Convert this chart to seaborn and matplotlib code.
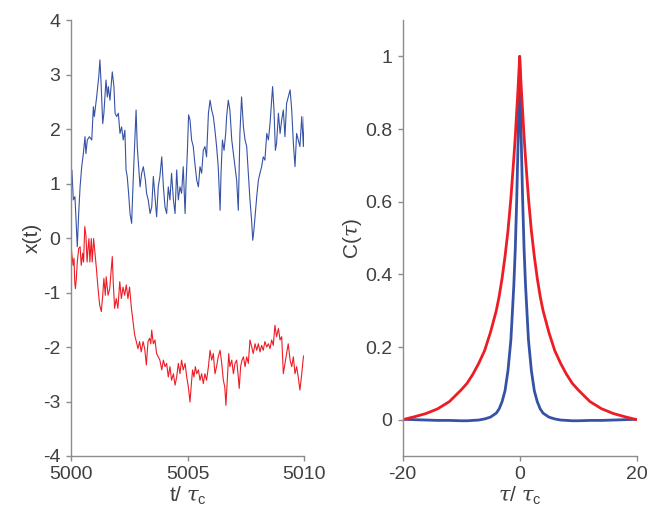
import numpy as np
import pandas as pd
import matplotlib
matplotlib.use("Agg")
import matplotlib.pyplot as plt
import seaborn as sns

# ---- left panel: trajectories ----
t_blue = [5000.00, 5000.04, 5000.10, 5000.17, 5000.24, 5000.27, 5000.33, 5000.39, 5000.46, 5000.53,
          5000.60, 5000.64, 5000.70, 5000.79, 5000.89, 5000.96, 5001.00, 5001.10, 5001.19, 5001.24,
          5001.29, 5001.36, 5001.41, 5001.50, 5001.56, 5001.60, 5001.67, 5001.77, 5001.84, 5001.89,
          5001.96, 5002.03, 5002.10, 5002.17, 5002.24, 5002.31, 5002.36, 5002.41, 5002.47, 5002.53,
          5002.60, 5002.64, 5002.70, 5002.79, 5002.84, 5002.90, 5002.96, 5003.03, 5003.10, 5003.19,
          5003.24, 5003.31, 5003.39, 5003.46, 5003.53, 5003.60, 5003.67, 5003.74, 5003.81, 5003.89,
          5003.96, 5004.03, 5004.10, 5004.17, 5004.24, 5004.31, 5004.39, 5004.46, 5004.53, 5004.60,
          5004.67, 5004.74, 5004.81, 5004.89, 5004.93, 5004.99, 5005.04, 5005.10, 5005.17, 5005.24,
          5005.31, 5005.39, 5005.46, 5005.53, 5005.60, 5005.67, 5005.74, 5005.81, 5005.89, 5005.96,
          5006.03, 5006.10, 5006.17, 5006.24, 5006.31, 5006.39, 5006.43, 5006.49, 5006.56, 5006.63,
          5006.67, 5006.74, 5006.81, 5006.89, 5006.96, 5007.03, 5007.10, 5007.17, 5007.24, 5007.31,
          5007.39, 5007.46, 5007.53, 5007.60, 5007.67, 5007.74, 5007.79, 5007.84, 5007.90, 5007.96,
          5008.03, 5008.10, 5008.17, 5008.24, 5008.31, 5008.39, 5008.46, 5008.53, 5008.60, 5008.64,
          5008.70, 5008.76, 5008.81, 5008.89, 5008.96, 5009.03, 5009.10, 5009.17, 5009.24, 5009.31,
          5009.39, 5009.46, 5009.53, 5009.60, 5009.67, 5009.74, 5009.81, 5009.89, 5009.96, 5010.00]
x_blue = [1.06, 1.25, 0.70, 0.76, 0.09, -0.16, 0.45, 0.94, 1.31, 1.55,
          1.86, 1.55, 1.80, 1.86, 1.80, 2.41, 2.23, 2.59, 2.96, 3.27,
          2.84, 2.10, 2.29, 2.90, 2.59, 2.78, 2.53, 3.05, 2.78, 2.29,
          2.23, 2.29, 1.92, 2.04, 1.80, 1.98, 1.25, 1.13, 0.82, 0.45,
          0.27, 0.76, 1.43, 2.35, 1.68, 1.31, 0.94, 1.19, 1.31, 1.06,
          0.82, 0.70, 0.45, 0.57, 1.13, 0.76, 0.39, 0.94, 1.13, 1.49,
          0.94, 0.57, 0.45, 0.94, 0.70, 1.19, 0.70, 0.45, 1.25, 0.70,
          0.94, 0.82, 1.31, 0.45, 1.00, 1.61, 2.26, 2.17, 1.80, 1.68,
          1.37, 1.06, 0.94, 1.31, 1.19, 1.61, 1.68, 1.49, 2.29, 2.53,
          2.35, 2.23, 1.98, 1.68, 1.31, 0.51, 1.19, 1.80, 1.61, 1.92,
          2.23, 2.53, 2.35, 1.80, 1.55, 1.31, 1.06, 0.51, 1.92, 2.59,
          2.04, 1.80, 1.68, 1.19, 0.70, 0.33, -0.04, 0.15, 0.45, 0.76,
          1.06, 1.19, 1.31, 1.49, 1.43, 1.92, 1.80, 2.10, 2.53, 2.78,
          2.35, 1.61, 1.74, 2.29, 1.92, 2.17, 2.35, 1.86, 2.47, 2.59,
          2.72, 2.35, 1.74, 1.31, 1.92, 1.80, 1.68, 2.23, 1.68, 2.23]

t_red = [5000.00, 5000.04, 5000.09, 5000.13, 5000.16, 5000.19, 5000.23, 5000.27, 5000.33, 5000.39,
         5000.44, 5000.50, 5000.54, 5000.59, 5000.64, 5000.69, 5000.73, 5000.77, 5000.81, 5000.87,
         5000.91, 5000.97, 5001.01, 5001.09, 5001.16, 5001.23, 5001.30, 5001.36, 5001.41, 5001.47,
         5001.51, 5001.59, 5001.66, 5001.73, 5001.77, 5001.81, 5001.87, 5001.94, 5002.01, 5002.09,
         5002.16, 5002.23, 5002.30, 5002.37, 5002.44, 5002.51, 5002.59, 5002.66, 5002.73, 5002.80,
         5002.87, 5002.94, 5003.01, 5003.09, 5003.16, 5003.23, 5003.30, 5003.37, 5003.42, 5003.46,
         5003.53, 5003.60, 5003.67, 5003.74, 5003.81, 5003.89, 5003.96, 5004.03, 5004.10, 5004.17,
         5004.24, 5004.31, 5004.39, 5004.46, 5004.53, 5004.60, 5004.67, 5004.74, 5004.81, 5004.89,
         5004.96, 5005.03, 5005.10, 5005.16, 5005.21, 5005.27, 5005.33, 5005.39, 5005.46, 5005.53,
         5005.60, 5005.67, 5005.74, 5005.81, 5005.89, 5005.96, 5006.03, 5006.10, 5006.17, 5006.24,
         5006.31, 5006.39, 5006.46, 5006.53, 5006.59, 5006.64, 5006.70, 5006.76, 5006.81, 5006.89,
         5006.96, 5007.03, 5007.10, 5007.17, 5007.21, 5007.27, 5007.33, 5007.39, 5007.46, 5007.53,
         5007.60, 5007.67, 5007.74, 5007.81, 5007.89, 5007.96, 5008.03, 5008.10, 5008.17, 5008.24,
         5008.31, 5008.39, 5008.46, 5008.53, 5008.60, 5008.67, 5008.74, 5008.81, 5008.89, 5008.96,
         5009.03, 5009.10, 5009.17, 5009.24, 5009.31, 5009.39, 5009.46, 5009.53, 5009.60, 5009.67,
         5009.74, 5009.81, 5009.89, 5009.96, 5010.00]
x_red = [-0.13, -0.31, -0.50, -0.37, -0.80, -0.93, -0.74, -0.44, -0.19, -0.16,
         -0.50, -0.28, -0.44, 0.21, 0.05, -0.44, -0.19, -0.01, -0.44, -0.01,
         -0.44, -0.01, -0.19, -0.56, -0.93, -1.23, -1.35, -1.05, -0.74, -1.05,
         -0.71, -1.05, -0.93, -0.56, -0.34, -0.80, -1.29, -1.11, -1.29, -0.80,
         -1.11, -0.90, -1.05, -0.86, -1.11, -0.90, -1.29, -1.54, -1.78, -1.90,
         -2.03, -1.90, -2.09, -1.90, -2.03, -2.33, -1.90, -1.84, -1.94, -1.69,
         -1.94, -1.87, -2.12, -2.18, -2.24, -2.42, -2.24, -2.36, -2.30, -2.55,
         -2.36, -2.61, -2.49, -2.70, -2.55, -2.30, -2.49, -2.24, -2.42, -2.30,
         -2.55, -2.73, -3.01, -2.67, -2.42, -2.55, -2.36, -2.49, -2.42, -2.61,
         -2.49, -2.67, -2.49, -2.61, -2.36, -2.06, -2.24, -2.12, -2.49, -2.36,
         -2.18, -2.06, -2.30, -2.61, -2.73, -3.07, -2.61, -2.12, -2.36, -2.24,
         -2.49, -2.30, -2.24, -2.55, -2.76, -2.36, -2.24, -2.18, -2.36, -2.18,
         -2.30, -1.87, -1.99, -2.12, -1.94, -2.06, -1.94, -2.09, -1.97, -2.06,
         -1.90, -2.00, -1.94, -2.03, -1.87, -1.97, -1.60, -1.81, -1.66, -1.87,
         -1.81, -2.49, -2.30, -2.12, -1.94, -2.24, -2.36, -2.18, -2.49, -2.36,
         -2.55, -2.79, -2.49, -2.18, -2.15]

# ---- right panel: autocorrelations ----
tau = [-20, -18, -16, -14, -12, -10, -9, -8, -7, -6, -5, -4, -3.5, -3, -2.5, -2, -1.5, -1,
       -0.75, -0.5, -0.25, 0, 0.25, 0.5, 0.75, 1, 1.5, 2, 2.5, 3, 3.5, 4, 5, 6, 7, 8, 9, 10,
       12, 14, 16, 18, 20]
c_red = [0.000, 0.008, 0.017, 0.030, 0.050, 0.082, 0.100, 0.125, 0.155, 0.190, 0.240, 0.300,
         0.340, 0.390, 0.450, 0.520, 0.610, 0.720, 0.780, 0.850, 0.920, 1.000, 0.920, 0.850,
         0.780, 0.720, 0.610, 0.520, 0.450, 0.390, 0.340, 0.300, 0.240, 0.190, 0.155, 0.125,
         0.100, 0.082, 0.050, 0.030, 0.017, 0.008, 0.000]
c_blue = [0.001, 0.000, -0.001, -0.002, -0.002, -0.003, -0.003, -0.002, -0.001, 0.002, 0.007,
          0.018, 0.030, 0.050, 0.080, 0.135, 0.220, 0.370, 0.470, 0.610, 0.780, 1.000, 0.780,
          0.610, 0.470, 0.370, 0.220, 0.135, 0.080, 0.050, 0.030, 0.018, 0.007, 0.002, -0.001,
          -0.002, -0.003, -0.003, -0.002, -0.002, -0.001, 0.000, 0.001]

BLUE = "#3652a5"
RED = "#ee1c25"
TXT = "#404040"
SPINE = "#8c8c8c"

sns.set_theme(style="ticks")
plt.rcParams["font.family"] = ["Liberation Sans", "DejaVu Sans"]
plt.rcParams["mathtext.fontset"] = "custom"
plt.rcParams["mathtext.rm"] = "Liberation Sans"
plt.rcParams["mathtext.it"] = "DejaVu Serif:italic"
plt.rcParams["mathtext.sf"] = "Liberation Sans"
plt.rcParams["axes.unicode_minus"] = False

fig = plt.figure(figsize=(6.5, 5.29), dpi=100)
ax1 = fig.add_axes([0.1092, 0.138, 0.359, 0.824])
ax2 = fig.add_axes([0.6195, 0.138, 0.360, 0.824])

df_b = pd.DataFrame({"t": t_blue, "x": x_blue})
df_r = pd.DataFrame({"t": t_red, "x": x_red})
sns.lineplot(data=df_b, x="t", y="x", ax=ax1, color=BLUE, lw=0.8, estimator=None, sort=False)
sns.lineplot(data=df_r, x="t", y="x", ax=ax1, color=RED, lw=0.8, estimator=None, sort=False)

df_c = pd.DataFrame({"tau": tau, "red": c_red, "blue": c_blue})
sns.lineplot(data=df_c, x="tau", y="blue", ax=ax2, color=BLUE, lw=2.0, estimator=None, sort=False)
sns.lineplot(data=df_c, x="tau", y="red", ax=ax2, color=RED, lw=2.0, estimator=None, sort=False)

ax1.set_xlim(5000, 5010)
ax1.set_ylim(-4, 4)
ax1.set_xticks([5000, 5005, 5010])
ax1.set_yticks(range(-4, 5))
ax1.set_xlabel(r"t/ $\tau_{\mathsf{c}}$", fontsize=15, color=TXT, labelpad=1)
ax1.set_ylabel("x(t)", fontsize=15, color=TXT, labelpad=1)

ax2.set_xlim(-20, 20)
ax2.set_ylim(-0.1, 1.1)
ax2.set_xticks([-20, 0, 20])
ax2.set_yticks([0, 0.2, 0.4, 0.6, 0.8, 1])
ax2.set_yticklabels(["0", "0.2", "0.4", "0.6", "0.8", "1"])
ax2.set_xlabel(r"$\tau$/ $\tau_{\mathsf{c}}$", fontsize=15, color=TXT, labelpad=1)
ax2.set_ylabel(r"C($\tau$)", fontsize=15, color=TXT, labelpad=1)

for ax in (ax1, ax2):
    sns.despine(ax=ax)
    for s in ("left", "bottom"):
        ax.spines[s].set_color(SPINE)
        ax.spines[s].set_linewidth(1.0)
    ax.tick_params(axis="both", direction="out", length=3.5, width=1.0,
                   color=SPINE, labelsize=14, labelcolor=TXT, pad=4)

fig.savefig("out.png", dpi=100)
